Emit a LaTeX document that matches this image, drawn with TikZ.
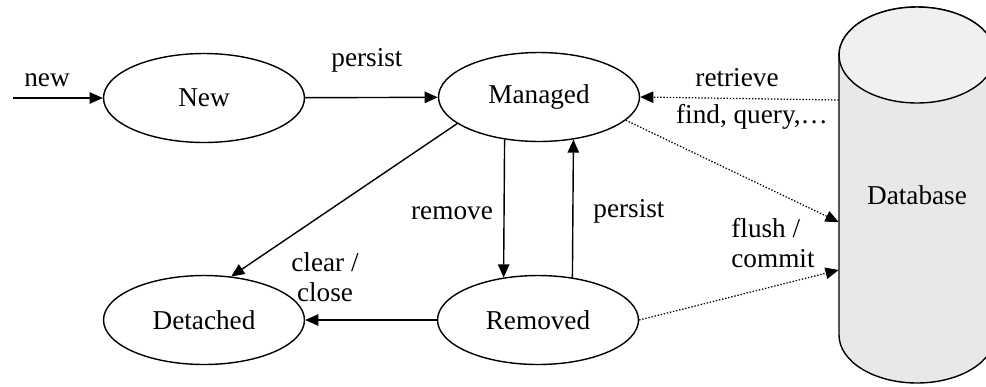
\documentclass[tikz,border=0pt]{standalone}
\usepackage{fontspec}
\setmainfont{Liberation Serif}
\usetikzlibrary{shapes.geometric,arrows.meta}
\tikzset{
  state/.style={draw,ellipse,line width=.8pt,minimum width=4.02cm,minimum height=1.78cm,inner sep=0pt},
  flow/.style={-{Triangle[length=7.5pt,width=6.5pt]},line width=.8pt},
  dbflow/.style={flow,densely dotted,line width=.7pt},
  lbl/.style={inner sep=0pt,align=center}
}
\begin{document}
\begin{tikzpicture}[x=0.02cm,y=-0.02cm,font=\fontsize{15.5}{17}\selectfont]
\useasboundingbox (0,0) rectangle (986,386);
% database cylinder
\draw[fill=gray!18,line width=.8pt] (839,55) -- (839,335)
  arc[start angle=180,end angle=360,x radius=1.56cm,y radius=.96cm] -- (995,55)
  arc[start angle=0,end angle=180,x radius=1.56cm,y radius=.96cm] -- cycle;
\draw[fill=gray!12,line width=.8pt] (917,55) ellipse[x radius=1.56cm,y radius=.96cm];
\node[minimum width=3.12cm,minimum height=7.52cm,inner sep=0pt] (db) at (917,195) {Database};
% states
\node[state] (new) at (204,98) {New};
\node[state] (man) at (539,97) {Managed};
\node[state] (det) at (204,320) {Detached};
\node[state] (rem) at (538,320) {Removed};
\coordinate (start) at (13,98);
% transitions
\draw[flow] (start) -- (new);
\draw[flow] (new) -- (man);
\draw[flow] (man.198) -- (det.58);
\draw[flow] (man.231) -- (rem.129);
\draw[flow] (rem.51) -- (man.-51);
\draw[flow] (rem) -- (det);
% database flows
\draw[dbflow] (db.west |- 0,100) -- (man.east);
\draw[dbflow] (man.-15) -- (db.west |- 0,222);
\draw[dbflow] (rem.east) -- (db.west |- 0,270);
% labels
\node[lbl] (lnew) at (47,80) {new};
\node[lbl] (lpersist) at (367,60) {persist};
\node[lbl] (lretrieve) at (737,78) {retrieve};
\node[lbl] (lfind) at (752,117) {find, query,\dots};
\node[lbl] (lremove) at (452,213) {remove};
\node[lbl] (lpersist2) at (629,211) {persist};
\node[lbl] (lclear) at (325,277) {clear /\\close};
\node[lbl,align=left,anchor=west] (lflush) at (731,243) {flush /\\commit};
\end{tikzpicture}
\end{document}
